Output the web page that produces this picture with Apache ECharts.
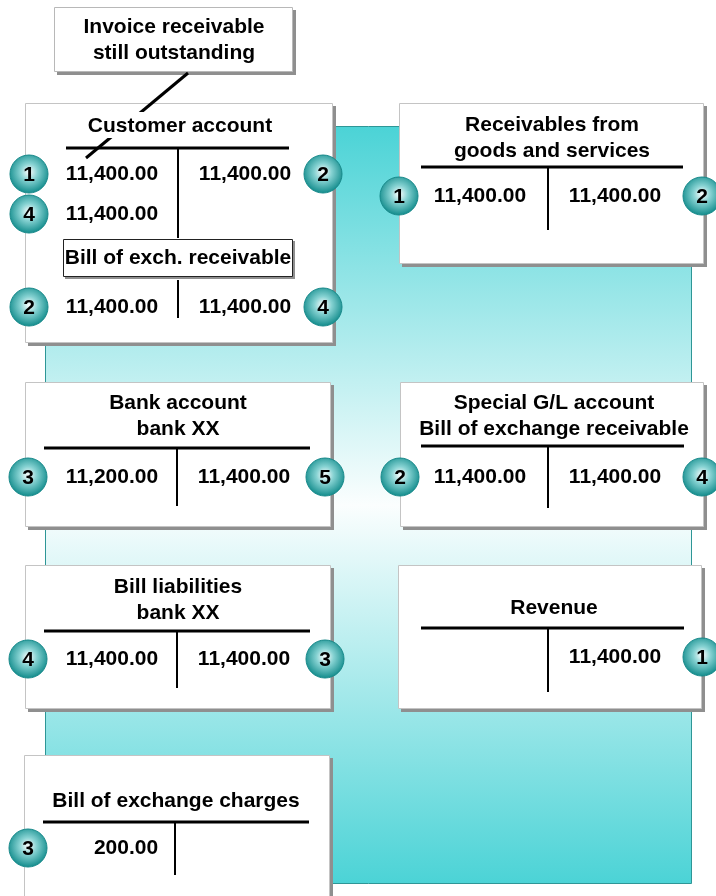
<!DOCTYPE html>
<html>
<head>
<meta charset="utf-8">
<script src="https://cdn.jsdelivr.net/npm/echarts@6/dist/echarts.min.js"></script>
<style>
  html, body { margin: 0; padding: 0; background: #fff; }
  #chart { width: 716px; height: 896px; }
</style>
</head>
<body>
<div id="chart"></div>
<script>
// account data
const noteText = 'Invoice receivable\nstill outstanding'
const accountNames = [
  'Customer account',
  'Bill of exch. receivable',
  'Receivables from\ngoods and services',
  'Bank account\nbank XX',
  'Special G/L account\nBill of exchange receivable',
  'Bill liabilities\nbank XX',
  'Revenue',
  'Bill of exchange charges'
]
// [posting step, amount] per side
const debitEntries = [
  [[1, 11400], [4, 11400]],
  [[2, 11400]],
  [[1, 11400]],
  [[3, 11200]],
  [[2, 11400]],
  [[4, 11400]],
  [],
  [[3, 200]]
]
const creditEntries = [
  [[2, 11400]],
  [[4, 11400]],
  [[2, 11400]],
  [[5, 11400]],
  [[4, 11400]],
  [[3, 11400]],
  [[1, 11400]],
  []
]

// layout (pixels)
const frames = [
  [25, 103, 307, 239],
  [399, 103, 304, 160],
  [25, 382, 305, 144],
  [400, 382, 303, 144],
  [25, 565, 305, 143],
  [398, 565, 303, 143],
  [24, 755, 305, 160]
]
// titleX, titleY, lineY, lineX1, lineX2, vx, vy1, vy2, leftX, rightX, circL, circR, rows
const tLayout = [
  [180, 126, 148, 66, 289, 178, 148, 238, 112, 245, 29, 323, [174, 214]],
  [178, 258, null, 0, 0, 178, 280, 318, 112, 245, 29, 323, [307]],
  [552, 125, 167, 421, 683, 548, 167, 230, 480, 615, 399, 702, [196]],
  [178, 403, 448, 44, 310, 177, 448, 506, 112, 244, 28, 325, [477]],
  [554, 403, 446, 421, 684, 548, 446, 508, 480, 615, 400, 702, [477]],
  [178, 587, 631, 44, 310, 177, 631, 688, 112, 244, 28, 325, [659]],
  [554, 608, 628, 421, 684, 548, 628, 692, 480, 615, 400, 702, [657]],
  [176, 801, 822, 43, 309, 175, 822, 875, 126, 244, 28, 325, [848]]
]

const FONT = 'bold 21px "Liberation Sans", Arial, sans-serif'
const fmt = v => v.toLocaleString('en-US', { minimumFractionDigits: 2, maximumFractionDigits: 2 })

function txt(x, y, text, z) {
  return {
    type: 'text', z: z || 10,
    style: { x, y, text, font: FONT, fill: '#000', align: 'center', verticalAlign: 'middle', lineHeight: 26 }
  }
}

// white box with a flat grey drop shadow on right / bottom
function box(x, y, w, h, stroke, off, z) {
  return [{
    type: 'rect', z: z,
    shape: { x: x + off, y: y + off, width: w + 1, height: h + 1 },
    style: { fill: '#8f8f8f' }
  }, {
    type: 'rect', z: z + 0.5,
    shape: { x: x + 0.5, y: y + 0.5, width: w, height: h },
    style: { fill: '#fff', stroke: stroke, lineWidth: 1 }
  }]
}

function bubble(x, y, n) {
  return [{
    type: 'circle', z: 30,
    shape: { cx: x, cy: y, r: 19 },
    style: {
      fill: new echarts.graphic.RadialGradient(0.5, 0.45, 0.55, [
        { offset: 0, color: '#ffffff' },
        { offset: 0.4, color: '#86d2d2' },
        { offset: 1, color: '#0f8a8a' }
      ]),
      stroke: '#17898a', lineWidth: 1
    }
  }, {
    type: 'text', z: 31,
    style: { x, y: y + 1, text: String(n), font: 'bold 21px "Liberation Sans", Arial, sans-serif', fill: '#000', align: 'center', verticalAlign: 'middle' }
  }]
}

const elements = []

// teal backdrop
elements.push({
  type: 'rect', z: 1,
  shape: { x: 45.5, y: 126.5, width: 646, height: 757 },
  style: {
    fill: new echarts.graphic.LinearGradient(0, 0, 0, 1, [
      { offset: 0, color: '#4bd3d6' },
      { offset: 0.5, color: '#fbfefe' },
      { offset: 1, color: '#4bd3d6' }
    ]),
    stroke: '#2e9696', lineWidth: 1
  }
})

frames.forEach(f => {
  elements.push(...box(f[0], f[1], f[2], f[3], '#c4c4c4', 3, 5))
})

// note box and connector
elements.push(...box(54, 7, 238, 64, '#b8b8b8', 3, 5))
elements.push(txt(174, 40, noteText, 12))
elements.push({
  type: 'line', z: 8,
  shape: { x1: 188, y1: 73, x2: 86, y2: 158 },
  style: { stroke: '#000', lineWidth: 3 }
})
elements.push({
  type: 'rect', z: 9,
  shape: { x: 82, y: 112, width: 196, height: 26 },
  style: { fill: '#fff' }
})

// label box inside customer account
elements.push(...box(63, 239, 229, 37, '#222', 2, 9))

tLayout.forEach((t, i) => {
  const [tx, ty, ly, lx1, lx2, vx, vy1, vy2, leftX, rightX, cL, cR, rows] = t
  const title = accountNames[i]
  const nLines = title.split('\n').length
  elements.push(txt(tx, ty + (nLines - 1) * 13.5, title, 12))
  if (ly !== null) {
    elements.push({ type: 'line', z: 10, shape: { x1: lx1, y1: ly, x2: lx2, y2: ly }, style: { stroke: '#000', lineWidth: 3 } })
  }
  elements.push({ type: 'line', z: 10, shape: { x1: vx, y1: vy1, x2: vx, y2: vy2 }, style: { stroke: '#000', lineWidth: 2 } })
  debitEntries[i].forEach((e, k) => {
    elements.push(txt(leftX, rows[k], fmt(e[1])))
    elements.push(...bubble(cL, rows[k], e[0]))
  })
  creditEntries[i].forEach((e, k) => {
    elements.push(txt(rightX, rows[k], fmt(e[1])))
    elements.push(...bubble(cR, rows[k], e[0]))
  })
})

const chart = echarts.init(document.getElementById('chart'), null, { renderer: 'canvas' })
chart.setOption({
  animation: false,
  backgroundColor: '#fff',
  graphic: { elements }
})
</script>
</body>
</html>
